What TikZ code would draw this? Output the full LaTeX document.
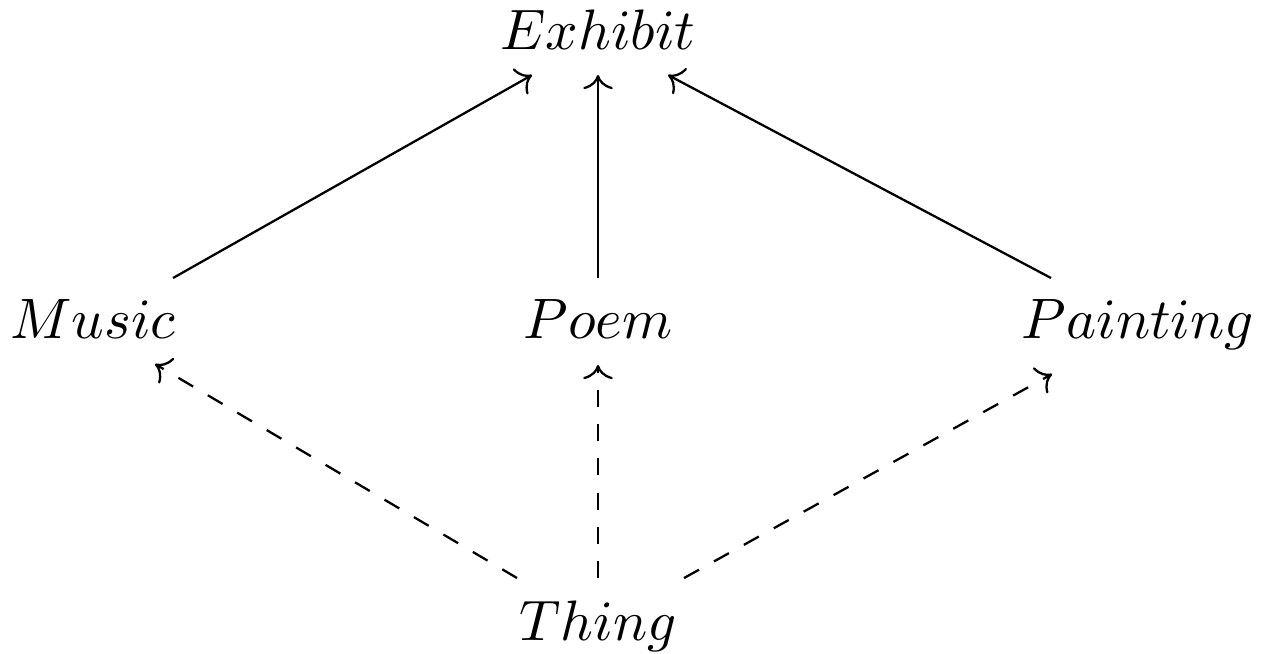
\documentclass[tikz,border=0pt]{standalone}
\usetikzlibrary{cd,calc}
\begin{document}
\begin{tikzpicture}[x=0.1754pt,y=-0.1754pt,
  obj/.style={anchor=base,inner xsep=1ex,inner ysep=0.85ex},
  arr/.style={-{cm to},line width=0.4pt},
  darr/.style={arr,dashed}]
\useasboundingbox (0,0) rectangle (1272,653);
\node[obj] (ex) at (598,49) {$Exhibit$};
\node[obj] (mu) at (93,338) {$Music$};
\node[obj] (po) at (598,338) {$Poem$};
\node[obj] (pa) at (1138,338) {$Painting$};
\node[obj] (th) at (598,640) {$Thing$};
\draw[arr] ($(mu.base)+(80,-60)$) -- ($(ex.base)+(-66,26)$);
\draw[arr] ($(po.base)+(0,-60)$) -- ($(ex.base)+(0,26)$);
\draw[arr] ($(pa.base)+(-87,-60)$) -- ($(ex.base)+(70,26)$);
\draw[darr] ($(th.base)+(-81,-62)$) -- ($(mu.base)+(62,26)$);
\draw[darr] ($(th.base)+(0,-62)$) -- ($(po.base)+(0,27)$);
\draw[darr] ($(th.base)+(86,-62)$) -- ($(pa.base)+(-86,36)$);
\end{tikzpicture}
\end{document}
